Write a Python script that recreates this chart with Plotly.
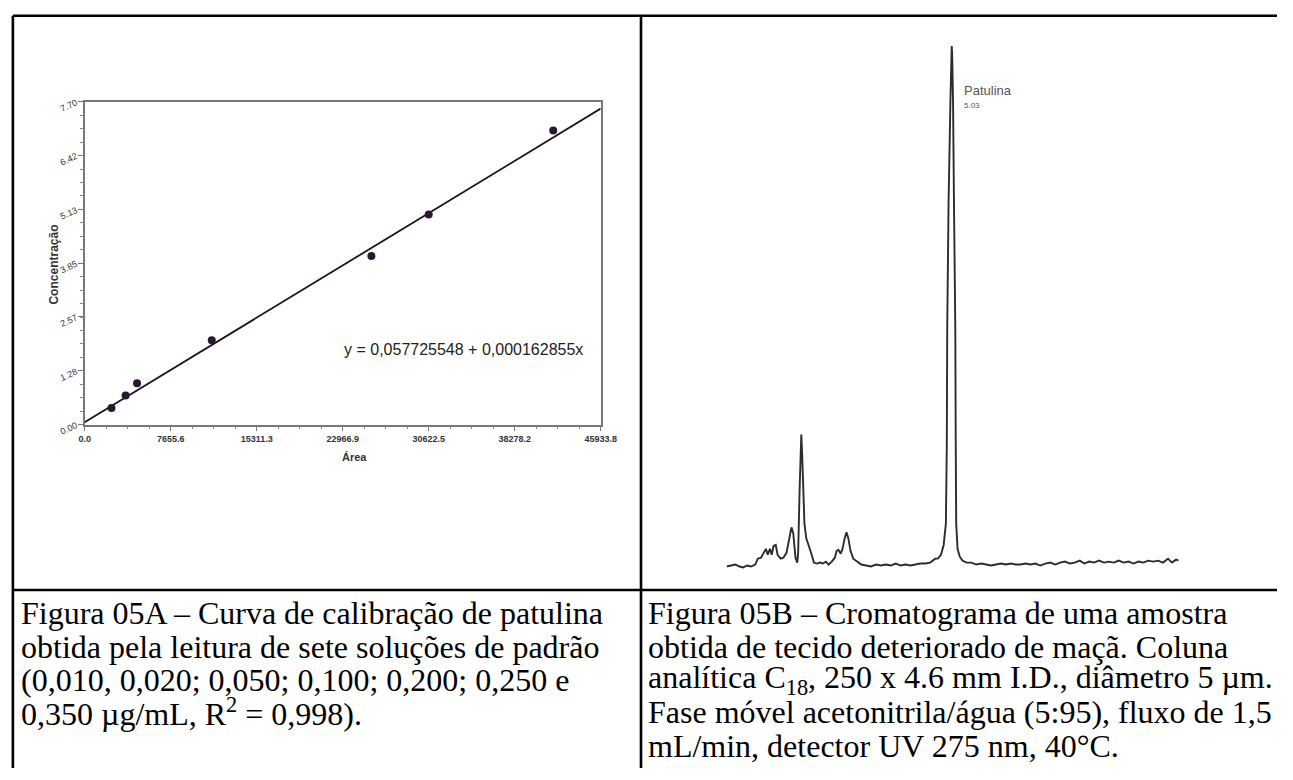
import plotly.graph_objects as go

# ---- Figura 05A: calibration curve data ----
area = [2389, 3648, 4664, 11313, 25522, 30623, 41708]
concentracao = [0.397, 0.693, 0.987, 2.014, 4.02, 5.01, 7.016]
intercept = 0.057725548
slope = 0.000162855
x_ticks = [0.0, 7655.6, 15311.3, 22966.9, 30622.5, 38278.2, 45933.8]
y_ticks = [0.00, 1.28, 2.57, 3.85, 5.13, 6.42, 7.70]

# ---- Figura 05B: chromatogram trace (time in min, detector signal) ----
tempo = [0.00, 0.11, 0.20, 0.29, 0.37, 0.46, 0.55, 0.64, 0.70, 0.77, 0.83, 0.88,
         0.92, 0.97, 1.01, 1.05, 1.10, 1.14, 1.21, 1.27, 1.34, 1.41, 1.45, 1.49,
         1.54, 1.58, 1.60, 1.63, 1.65, 1.67, 1.69, 1.71, 1.74, 1.78, 1.82, 1.87,
         1.91, 1.95, 2.02, 2.09, 2.15, 2.22, 2.28, 2.35, 2.42, 2.46, 2.50, 2.55,
         2.59, 2.64, 2.68, 2.72, 2.77, 2.83, 2.92, 3.01, 3.12, 3.23, 3.34, 3.45,
         3.56, 3.67, 3.78, 3.89, 4.00, 4.11, 4.22, 4.33, 4.44, 4.55, 4.66, 4.72,
         4.79, 4.85, 4.90, 4.92, 4.93, 4.96, 5.00, 5.02, 5.03, 5.04, 5.06, 5.08,
         5.11, 5.12, 5.13, 5.16, 5.21, 5.27, 5.36, 5.47, 5.58, 5.69, 5.80, 5.91,
         6.02, 6.13, 6.24, 6.35, 6.46, 6.57, 6.68, 6.79, 6.90, 7.01, 7.12, 7.23,
         7.34, 7.45, 7.56, 7.67, 7.78, 7.89, 7.99, 8.10, 8.21, 8.32, 8.43, 8.54,
         8.65, 8.76, 8.87, 8.98, 9.09, 9.20, 9.31, 9.42, 9.53, 9.64, 9.75, 9.86,
         9.95, 10.04, 10.10]
sinal = [-0.2, 0.0, 0.2, -0.2, -0.4, 0.0, -0.2, 0.2, 1.4, 1.6, 2.6, 3.4,
         2.2, 3.4, 2.2, 4.0, 4.2, 2.2, 1.4, 1.6, 2.6, 5.6, 7.8, 6.6,
         1.6, 0.6, 2.6, 14.6, 24.6, 26.8, 22.6, 14.6, 8.6, 5.6, 4.6, 3.4,
         2.0, 0.6, 0.4, 0.6, 0.4, 0.8, 0.2, 0.8, 1.6, 3.0, 3.2, 2.4,
         3.4, 5.6, 6.8, 5.6, 3.0, 1.4, 0.8, 0.2, 0.0, -0.2, 0.2, 0.0,
         0.2, 0.0, 0.4, 0.0, 0.2, 0.0, 0.2, 0.4, 0.4, 0.6, 1.4, 1.4,
         2.2, 4.2, 8.6, 24.6, 48.6, 74.6, 94.6, 104.6, 106.2, 104.6, 94.6, 74.6,
         48.6, 24.6, 8.6, 3.4, 1.8, 1.0, 0.6, 0.6, 0.2, 0.4, 0.2, 0.0,
         0.2, 0.4, 0.2, 0.4, 0.2, 0.2, 0.4, 0.2, 0.4, 0.0, 0.4, 0.6,
         0.2, 0.6, 0.8, 0.4, 0.6, 1.0, 0.4, 0.8, 0.6, 1.0, 0.6, 0.8,
         0.6, 1.0, 0.6, 0.8, 0.4, 0.8, 0.6, 1.0, 0.8, 1.0, 0.6, 1.4,
         0.6, 1.2, 1.0]
pico_nome = "Patulina"
pico_tempo = 5.03

legenda_a = [
    "Figura 05A – Curva de calibração de patulina",
    "obtida pela leitura de sete soluções de padrão",
    "(0,010, 0,020; 0,050; 0,100; 0,200; 0,250 e",
    "0,350 µg/mL, R<sup>2</sup> = 0,998).",
]
legenda_b = [
    "Figura 05B – Cromatograma de uma amostra",
    "obtida de tecido deteriorado de maçã. Coluna",
    "analítica C<sub>18</sub>, 250 x 4.6 mm I.D., diâmetro 5 µm.",
    "Fase móvel acetonitrila/água (5:95), fluxo de 1,5",
    "mL/min, detector UV 275 nm, 40°C.",
]
linhas_y = [622, 656, 690, 723, 757]

W, H = 1293, 780


def px(x):
    return x / W


def py(y):
    return 1 - y / H


fig = go.Figure()

# regression line over the full area range
x_fit = [x_ticks[0], x_ticks[-1]]
y_fit = [intercept + slope * v for v in x_fit]
fig.add_trace(go.Scatter(x=x_fit, y=y_fit, mode="lines",
                         line=dict(color="#1e1418", width=1.8),
                         xaxis="x", yaxis="y", showlegend=False))
fig.add_trace(go.Scatter(x=area, y=concentracao, mode="markers",
                         marker=dict(color="#2a1730", size=8),
                         xaxis="x", yaxis="y", showlegend=False))

# chromatogram
fig.add_trace(go.Scatter(x=tempo, y=sinal, mode="lines",
                         line=dict(color="#2c2c2c", width=1.9),
                         xaxis="x2", yaxis="y2", showlegend=False))

annotations = [
    dict(text="y = 0,057725548 + 0,000162855x", x=33684, y=1.80,
         xref="x", yref="y", showarrow=False,
         font=dict(family="Arial, Liberation Sans", size=16, color="#222")),
    dict(text="<b>Concentração</b>", x=px(40), y=py(265), xref="paper", yref="paper",
         textangle=-90, showarrow=False,
         font=dict(family="Arial, Liberation Sans", size=12, color="#333")),
    dict(text="<b>Área</b>", x=px(340), y=py(462), xref="paper", yref="paper",
         showarrow=False,
         font=dict(family="Arial, Liberation Sans", size=11, color="#333")),
    dict(text=pico_nome, x=5.25, y=97.2, xref="x2", yref="y2", xanchor="left",
         showarrow=False,
         font=dict(family="Arial, Liberation Sans", size=13, color="#555")),
    dict(text=f"{pico_tempo:.2f}", x=5.27, y=94.0, xref="x2", yref="y2", xanchor="left",
         showarrow=False,
         font=dict(family="Arial, Liberation Sans", size=8, color="#555")),
]

serif = dict(family="Liberation Serif, Times New Roman", size=32, color="#000")
for i, linha in enumerate(legenda_a):
    annotations.append(dict(text=linha, x=px(13), y=py(linhas_y[i]), xref="paper",
                            yref="paper", xanchor="left", yanchor="middle",
                            showarrow=False, font=serif))
for i, linha in enumerate(legenda_b):
    annotations.append(dict(text=linha, x=px(651), y=py(linhas_y[i]), xref="paper",
                            yref="paper", xanchor="left", yanchor="middle",
                            showarrow=False, font=serif))

# table borders
borda = dict(color="#000", width=2.6)
shapes = [
    dict(type="line", xref="paper", yref="paper", x0=px(7), x1=1, y0=py(11), y1=py(11), line=borda),
    dict(type="line", xref="paper", yref="paper", x0=px(7), x1=px(7), y0=py(11), y1=0, line=borda),
    dict(type="line", xref="paper", yref="paper", x0=px(646), x1=px(646), y0=py(11), y1=0, line=borda),
    dict(type="line", xref="paper", yref="paper", x0=px(7), x1=1, y0=py(598), y1=py(598), line=borda),
]

tick_font = dict(family="Arial, Liberation Sans", size=9, color="#333")

fig.update_layout(
    width=W, height=H,
    margin=dict(l=0, r=0, t=0, b=0),
    paper_bgcolor="white", plot_bgcolor="white",
    showlegend=False,
    xaxis=dict(domain=[px(80), px(605)], range=[x_ticks[0], x_ticks[-1]],
               tickvals=x_ticks, ticktext=[f"<b>{v:.1f}</b>" for v in x_ticks],
               tickfont=tick_font, ticks="outside", ticklen=5, tickcolor="#777",
               minor=dict(dtick=(x_ticks[1] - x_ticks[0]) / 4, tick0=0,
                          ticks="outside", ticklen=3, tickcolor="#888"),
               showline=True, linecolor="#777", linewidth=1.5, mirror=True,
               showgrid=False, zeroline=False, anchor="y"),
    yaxis=dict(domain=[py(429), py(99)], range=[y_ticks[0], y_ticks[-1]],
               tickvals=y_ticks, ticktext=[f"{v:.2f}" for v in y_ticks],
               tickfont=tick_font, tickangle=-25, ticks="outside", ticklen=5,
               tickcolor="#777",
               minor=dict(dtick=7.70 / 24, tick0=0, ticks="outside", ticklen=3,
                          tickcolor="#888"),
               showline=True, linecolor="#777", linewidth=1.5, mirror=True,
               showgrid=False, zeroline=False, anchor="x"),
    xaxis2=dict(domain=[px(733), px(1193)], range=[0, 10.10], visible=False,
                anchor="y2"),
    yaxis2=dict(domain=[py(583), py(33)], range=[-2, 108], visible=False,
                anchor="x2"),
    annotations=annotations,
    shapes=shapes,
)

fig.write_html("out.html")
